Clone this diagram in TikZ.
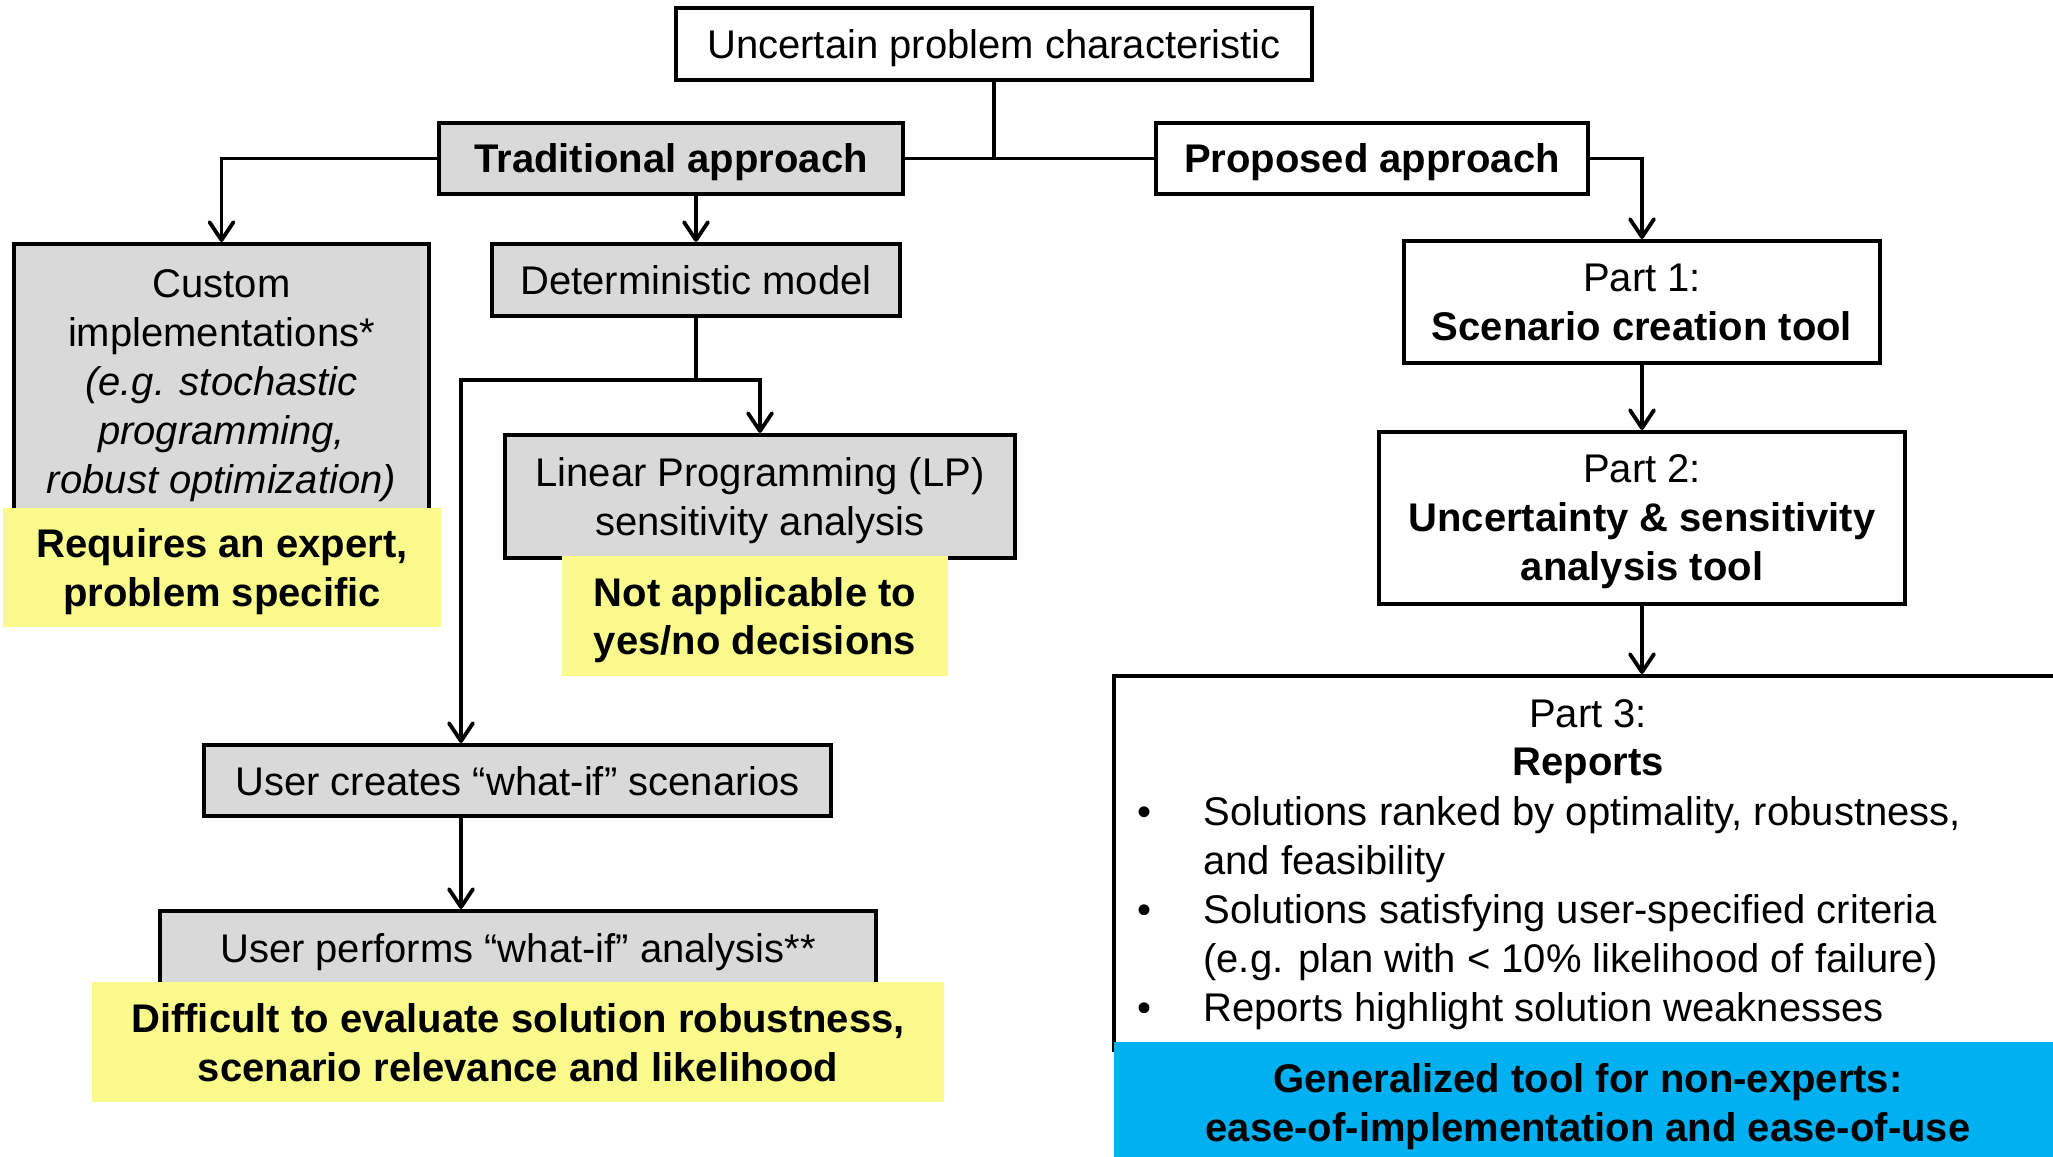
\documentclass[tikz,border=0pt]{standalone}
\usepackage{fontspec}
\setmainfont{Liberation Sans}
\usetikzlibrary{arrows.meta}
\definecolor{boxgray}{HTML}{D9D9D9}
\definecolor{noteyellow}{HTML}{FAFA8C}
\definecolor{noteblue}{HTML}{00B0F0}
\begin{document}
\begin{tikzpicture}[x=0.5pt,y=-0.5pt,
  every node/.style={font=\fontsize{20}{24.5}\selectfont},
  bold/.style={font=\fontsize{20}{24.5}\selectfont\bfseries},
  box/.style={draw=black, line width=2pt, inner sep=0pt, align=center, text depth=0pt},
  graybox/.style={box, fill=boxgray},
  whitebox/.style={box, fill=white},
  note/.style={inner sep=0pt, align=center, bold, text depth=0pt},
  conn/.style={line width=1.9pt},
  arr/.style={conn, -{Straight Barb[length=9pt,width=12pt,round]}},
]
\useasboundingbox (0,0) rectangle (2053,1157);

% nodes
\node[whitebox, minimum width=318pt, minimum height=36pt] (top) at (994,44) {Uncertain problem characteristic};
\node[graybox, bold, minimum width=232pt, minimum height=35.5pt] (trad) at (671,158.5) {Traditional approach};
\node[whitebox, bold, minimum width=216pt, minimum height=35.5pt] (prop) at (1372,158.5) {Proposed approach};

\node[graybox, minimum width=207.5pt, minimum height=138pt] (custom) at (221.5,382) {Custom\\implementations*\\\textit{(e.g. stochastic}\\\textit{programming,}\\\textit{robust optimization)}};
\node[note, fill=noteyellow, minimum width=219pt, minimum height=59.5pt] (n1) at (222,567.5) {Requires an expert,\\problem specific};

\node[graybox, minimum width=204pt, minimum height=36pt] (det) at (696,280) {Deterministic model};
\node[graybox, minimum width=255pt, minimum height=61.5pt] (lp) at (760,496.5) {Linear Programming (LP)\\sensitivity analysis};
\node[note, fill=noteyellow, minimum width=193pt, minimum height=60pt] (n2) at (755,616) {Not applicable to\\yes/no decisions};

\node[graybox, minimum width=313.5pt, minimum height=35.5pt] (wi1) at (517.5,780.5) {User creates “what-if” scenarios};
\node[graybox, minimum width=358pt, minimum height=37pt] (wi2) at (518,948) {User performs “what-if” analysis**};
\node[note, fill=noteyellow, minimum width=426pt, minimum height=60pt] (n3) at (518,1042) {Difficult to evaluate solution robustness,\\scenario relevance and likelihood};

\node[whitebox, minimum width=238pt, minimum height=61pt] (p1) at (1642,302) {Part 1:\\\textbf{Scenario creation tool}};
\node[whitebox, minimum width=263pt, minimum height=86pt] (p2) at (1642,518) {Part 2:\\\textbf{Uncertainty \& sensitivity}\\\textbf{analysis tool}};
\node[whitebox, minimum width=474pt, minimum height=187pt] (p3) at (1588,863) {};
\node[anchor=base] (p3a) at (1588,727) {Part 3:};
\node[anchor=base, bold] (p3b) at (1588,775) {Reports};
\node[anchor=north west, inner sep=0pt] (p3list) at (1137,791) {%
\begin{tabular}{@{}p{33pt}@{}l@{}}
\textbullet & Solutions ranked by optimality, robustness,\\
 & and feasibility\\
\textbullet & Solutions satisfying user-specified criteria\\
 & (e.g. plan with < 10\% likelihood of failure)\\
\textbullet & Reports highlight solution weaknesses
\end{tabular}};
\node[note, fill=noteblue, minimum width=474pt, minimum height=60pt] (n4) at (1588,1102) {Generalized tool for non-experts:\\ease-of-implementation and ease-of-use};

% connectors
\draw[conn] (top.south) |- (trad.east);
\draw[conn] (top.south) |- (prop.west);
\draw[arr] (trad.west) -| (custom.north);
\draw[arr] (trad.south -| det.north) -- (det.north);
\coordinate (j1) at (696,380);
\coordinate (colx) at (461,380);
\draw[conn] (det.south) -- (j1);
\draw[arr] (j1) -| (lp.north);
\draw[arr] (j1) -- (colx) -- (colx |- wi1.north);
\draw[arr] (colx |- wi1.south) -- (colx |- wi2.north);
\draw[arr] (prop.east) -| (p1.north);
\draw[arr] (p1.south) -- (p2.north);
\draw[arr] (p2.south) -- (p2.south |- p3.north);
\end{tikzpicture}
\end{document}
